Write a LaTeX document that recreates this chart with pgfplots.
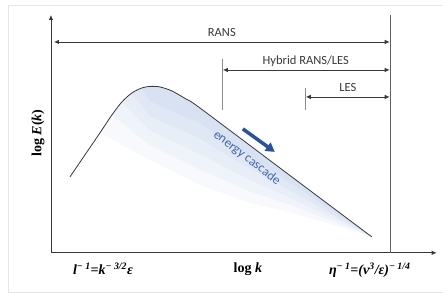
\documentclass[border=0pt]{standalone}
\usepackage{fontspec}
\setmainfont{Liberation Serif}
\newfontfamily\carlito{Carlito}
\usepackage{pgfplots}
\pgfplotsset{compat=1.18}
\usetikzlibrary{arrows.meta}
\definecolor{lineg}{rgb}{0.22,0.22,0.22}
\definecolor{shadeblue}{RGB}{216,226,243}
\definecolor{arrowblue}{RGB}{41,82,158}
\definecolor{textblue}{RGB}{68,102,176}
\begin{document}
\begin{tikzpicture}
\begin{axis}[
  scale only axis, width=386pt, height=238pt,
  xmin=0, xmax=386, ymin=0, ymax=238,
  axis lines=left, ticks=none, clip=false,
  axis line style={draw=lineg, line width=0.8pt, -{Latex[length=5pt,width=4.5pt]}},
]
% bounding box
\path (axis cs:-51,-40) rectangle (axis cs:392,253);
% faint frame
\draw[black!10, line width=0.6pt] (axis cs:392,248) -- (axis cs:-43,248) -- (axis cs:-43,-39) -- (axis cs:392,-39);
% shaded area, in layers fading away from the curve
\addplot[draw=none, fill=shadeblue!20] coordinates {
 (49,120) (61,138) (71,151) (81,160) (91,165) (99,166.5) (109,166) (121,162) (135,154) (149,145) (235,80.5) (321,16)
 (299,23) (249,38) (199,50) (149,68) (99,93)
} -- cycle;
\addplot[draw=none, fill=shadeblue!40] coordinates {
 (61,138) (71,151) (81,160) (91,165) (99,166.5) (109,166) (121,162) (135,154) (149,145) (235,80.5) (321,16)
 (299,24.9) (249,44.4) (199,61.5) (149,83.4) (99,107.7)
} -- cycle;
\addplot[draw=none, fill=shadeblue!60] coordinates {
 (71,151) (81,160) (91,165) (99,166.5) (109,166) (121,162) (135,154) (149,145) (235,80.5) (321,16)
 (299,26.8) (249,50.8) (199,73) (149,98.8) (99,122.4)
} -- cycle;
\addplot[draw=none, fill=shadeblue!80] coordinates {
 (81,160) (91,165) (99,166.5) (109,166) (121,162) (135,154) (149,145) (235,80.5) (321,16)
 (299,28.7) (249,57.2) (199,84.5) (149,114.2) (99,137.1)
} -- cycle;
\addplot[draw=none, fill=shadeblue] coordinates {
 (91,165) (99,166.5) (109,166) (121,162) (135,154) (149,145) (235,80.5) (321,16)
 (299,30.6) (249,63.6) (199,96) (149,129.6) (99,151.8)
} -- cycle;
% spectrum curve
\addplot[lineg, line width=0.8pt, smooth, tension=0.5] coordinates {
 (19,76) (34,98) (49,120) (61,138) (71,151) (81,160) (91,165) (99,166.5) (109,166) (121,162) (135,154) (149,145) (235,80.5) (321,16)
};
% vertical limit line
\addplot[lineg!80, line width=0.8pt] coordinates {(340,0) (340,238)};
% range arrows
\addplot[lineg, line width=0.8pt, {Latex[length=5pt,width=4.5pt]}-{Latex[length=5pt,width=4.5pt]}] coordinates {(3,211) (339,211)};
\addplot[lineg, line width=0.8pt, {Latex[length=5pt,width=4.5pt]}-{Latex[length=5pt,width=4.5pt]}] coordinates {(172,183) (339,183)};
\addplot[lineg, line width=0.8pt, {Latex[length=5pt,width=4.5pt]}-{Latex[length=5pt,width=4.5pt]}] coordinates {(255,156) (339,156)};
\addplot[black!45, line width=0.8pt] coordinates {(171.7,194) (171.7,143)};
\addplot[black!45, line width=0.8pt] coordinates {(254.3,165) (254.3,143)};
\node[anchor=base, font=\carlito\fontsize{12.5}{14}\selectfont, text=lineg] at (axis cs:171,216) {RANS};
\node[anchor=base, font=\carlito\fontsize{12.5}{14}\selectfont, text=lineg] at (axis cs:255,188) {Hybrid RANS/LES};
\node[anchor=base, font=\carlito\fontsize{12.5}{14}\selectfont, text=lineg] at (axis cs:297,161) {LES};
% energy cascade arrow
\addplot[arrowblue, line width=3.5pt, -{Triangle[length=9pt,width=10pt]}] coordinates {(192,124) (224,101)};
\node[rotate=-37.5, font=\carlito\fontsize{13}{15}\selectfont, text=textblue] at (axis cs:196,95) {energy cascade};
% labels
\node[rotate=90, font=\bfseries\fontsize{14}{16}\selectfont] at (axis cs:-13,120) {log \textit{E}(\textit{k})};
\node[anchor=base, font=\bfseries\fontsize{14}{16}\selectfont] at (axis cs:197,-20) {log \textit{k}};
\node[anchor=base, font=\bfseries\fontsize{14}{16}\selectfont] at (axis cs:52,-22) {\textit{l}\textsuperscript{\textit{− 1}}\textit{=k}\textsuperscript{\textit{− 3/2}}\textit{ε}};
\node[anchor=base, font=\bfseries\fontsize{14}{16}\selectfont] at (axis cs:319,-22) {\textit{η}\textsuperscript{\textit{− 1}}\textit{=(ν}\textsuperscript{\textit{3}}\textit{/ε)}\textsuperscript{\textit{− 1/4}}};
\end{axis}
\end{tikzpicture}
\end{document}
